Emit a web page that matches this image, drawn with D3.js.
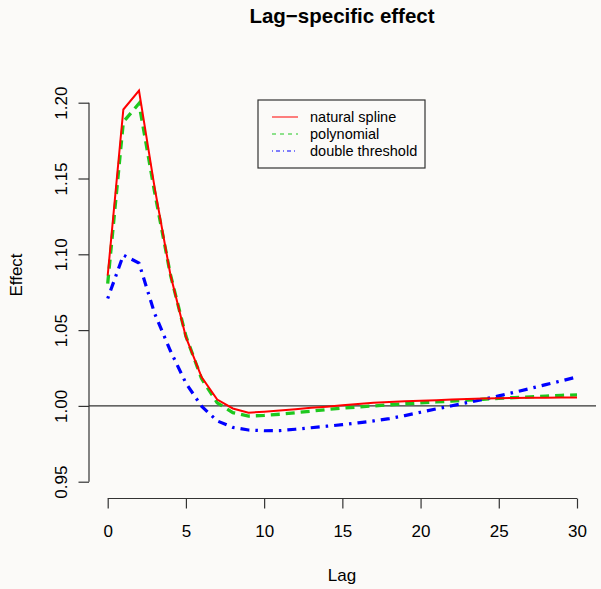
<!DOCTYPE html>
<html><head><meta charset="utf-8">
<script src="https://cdn.jsdelivr.net/npm/d3@7"></script>
<style>html,body{margin:0;padding:0;background:#fbfaf8;}svg{display:block;}</style>
</head><body>
<script>
const lags = d3.range(0, 31);
const naturalSpline = [1.086,1.1955,1.208,1.144,1.087,1.0453,1.019,1.0042,0.9983,0.9955,0.9962,0.997,0.9978,0.9987,0.9995,1.0005,1.0013,1.002,1.0026,1.003,1.0034,1.0038,1.0042,1.0046,1.0049,1.0051,1.0052,1.0053,1.0054,1.0055,1.0055];
const polynomial = [1.0807,1.1873,1.1995,1.141,1.087,1.046,1.018,1.002,0.9955,0.9933,0.9937,0.9945,0.9955,0.9965,0.9976,0.9985,0.9993,1.0,1.0007,1.0014,1.002,1.0026,1.0032,1.0038,1.0044,1.005,1.0055,1.006,1.0065,1.007,1.0073];
const doubleThreshold = [1.0708,1.0995,1.0942,1.061,1.0365,1.015,0.9998,0.9901,0.9858,0.9841,0.9836,0.9837,0.9846,0.9856,0.9866,0.9876,0.9888,0.9901,0.9916,0.9936,0.9958,0.998,1.0001,1.0022,1.0043,1.0066,1.009,1.0115,1.014,1.0165,1.0191];
const xTicks = [0,5,10,15,20,25,30];
const yTicks = [0.95,1.00,1.05,1.10,1.15,1.20];
const seriesNames = ["natural spline","polynomial","double threshold"];
const seriesColors = ["#ff0000","#1ec81e","#0000ff"];

const W = 601, H = 589;
const svg = d3.select("body").append("svg").attr("width", W).attr("height", H)
  .style("font-family", "'Liberation Sans', Arial, Helvetica, sans-serif");
svg.append("rect").attr("width", W).attr("height", H).attr("fill", "#fbfaf8");

const x = d3.scaleLinear().domain([0, 30]).range([107.7, 577]);
const y = d3.scaleLinear().domain([0.95, 1.20]).range([481.7, 102.7]);
const plotLeft = 89, plotRight = 596, plotBottom = 498.5;
const axisColor = "#333";

// x axis
const xAxis = svg.append("g").attr("transform", `translate(0,${plotBottom})`)
  .call(d3.axisBottom(x).tickValues(xTicks).tickSize(10).tickPadding(0).tickFormat(d3.format("d")));
xAxis.select(".domain").attr("d", `M${x(0)},0H${x(30)}`).attr("stroke", axisColor).attr("stroke-width", 1.2);
xAxis.selectAll(".tick line").attr("stroke", axisColor).attr("stroke-width", 1.2);
xAxis.selectAll(".tick text").attr("y", 38.5).attr("dy", null).attr("font-size", 17).attr("fill", "#000")
  .style("font-family", "'Liberation Sans', Arial, sans-serif");

// y axis
const yAxis = svg.append("g").attr("transform", `translate(${plotLeft},0)`)
  .call(d3.axisLeft(y).tickValues(yTicks).tickSize(10.5).tickFormat(d3.format(".2f")));
yAxis.select(".domain").attr("d", `M0,${y(0.95)}V${y(1.20)}`).attr("stroke", axisColor).attr("stroke-width", 1.2);
yAxis.selectAll(".tick line").attr("stroke", axisColor).attr("stroke-width", 1.2);
yAxis.selectAll(".tick text").attr("x", null).attr("dy", null)
  .attr("transform", "translate(-22.3,0) rotate(-90)")
  .attr("text-anchor", "middle").attr("font-size", 17).attr("fill", "#000")
  .style("font-family", "'Liberation Sans', Arial, sans-serif");

// reference line at 1
svg.append("line").attr("x1", plotLeft).attr("x2", plotRight).attr("y1", y(1)).attr("y2", y(1))
  .attr("stroke", axisColor).attr("stroke-width", 1.3);

const line = d3.line().x((d, i) => x(lags[i])).y(d => y(d));
svg.append("path").datum(polynomial).attr("d", line).attr("fill", "none")
  .attr("stroke", seriesColors[1]).attr("stroke-width", 3.3).attr("stroke-dasharray", "9,6");
svg.append("path").datum(doubleThreshold).attr("d", line).attr("fill", "none")
  .attr("stroke", seriesColors[2]).attr("stroke-width", 3.2).attr("stroke-dasharray", "2.5,6,9,6");
svg.append("path").datum(naturalSpline).attr("d", line).attr("fill", "none")
  .attr("stroke", seriesColors[0]).attr("stroke-width", 2);

// title & labels
svg.append("text").attr("x", 342).attr("y", 23).attr("text-anchor", "middle")
  .attr("font-size", 20.5).attr("font-weight", "bold").text("Lag\u2212specific effect");
svg.append("text").attr("x", 342).attr("y", 580.5).attr("text-anchor", "middle")
  .attr("font-size", 17).text("Lag");
svg.append("text").attr("transform", "translate(21.7,275) rotate(-90)").attr("text-anchor", "middle")
  .attr("font-size", 17).text("Effect");

// legend
const lg = svg.append("g");
lg.append("rect").attr("x", 258).attr("y", 100).attr("width", 167).attr("height", 68)
  .attr("fill", "none").attr("stroke", axisColor).attr("stroke-width", 1.2);
const dashes = [null, "4,4", "1,3,4,3"];
seriesNames.forEach((name, i) => {
  const yy = 117 + i * 17;
  lg.append("line").attr("x1", 272).attr("x2", 298).attr("y1", yy).attr("y2", yy)
    .attr("stroke", seriesColors[i]).attr("stroke-width", 1).attr("stroke-dasharray", dashes[i]);
  lg.append("text").attr("x", 310).attr("y", yy + 5).attr("font-size", 14.5).text(name);
});
</script>
</body></html>
